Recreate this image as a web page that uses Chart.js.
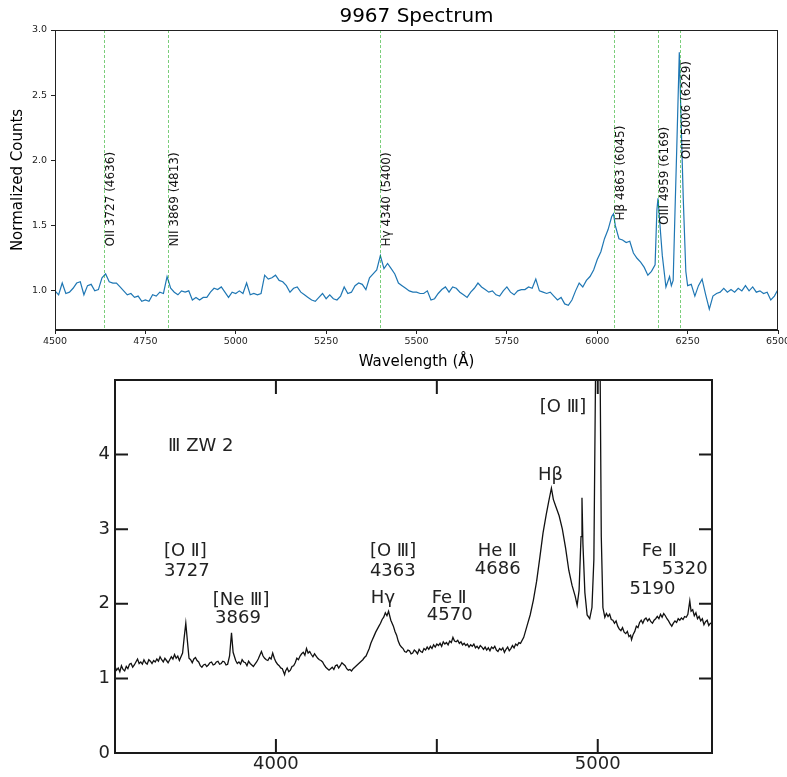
<!DOCTYPE html>
<html>
<head>
<meta charset="utf-8">
<script src="https://cdn.jsdelivr.net/npm/chart.js@4.4.1/dist/chart.umd.min.js"></script>
<style>
  body { margin: 0; background: #fff; }
  #top { position: absolute; left: 0; top: 0; }
  #bottom { position: absolute; left: 0; top: 370px; }
</style>
</head>
<body>
<canvas id="top" width="787" height="370"></canvas>
<canvas id="bottom" width="787" height="407"></canvas>
<script>
// ---- top panel: 9967 spectrum (observed wavelengths) ----
const topWave = [
  4500,4510,4520,4530,4540,4550,4560,4570,4580,4590,4600,4610,4620,4630,4640,4650,4660,4670,4680,4690,
  4700,4710,4720,4730,4740,4750,4760,4770,4780,4790,4800,4810,4820,4830,4840,4850,4860,4870,4880,4890,
  4900,4910,4920,4930,4940,4950,4960,4970,4980,4990,5000,5010,5020,5030,5040,5050,5060,5070,5080,5090,
  5100,5110,5120,5130,5140,5150,5160,5170,5180,5190,5200,5210,5220,5230,5240,5250,5260,5270,5280,5290,
  5300,5310,5320,5330,5340,5350,5360,5370,5380,5390,5400,5410,5420,5430,5440,5450,5460,5470,5480,5490,
  5500,5510,5520,5530,5540,5550,5560,5570,5580,5590,5600,5610,5620,5630,5640,5650,5660,5670,5680,5690,
  5700,5710,5720,5730,5740,5750,5760,5770,5780,5790,5800,5810,5820,5830,5840,5850,5860,5870,5880,5890,
  5900,5910,5920,5930,5940,5950,5960,5970,5980,5990,6000,6010,6020,6030,6040,6045,6050,6060,6070,6080,
  6090,6100,6110,6120,6130,6140,6150,6160,6165,6168,6175,6180,6190,6200,6205,6210,6215,6220,6227,6232,
  6238,6245,6250,6260,6270,6280,6290,6300,6310,6320,6330,6340,6350,6360,6370,6380,6390,6400,6410,6420,
  6430,6440,6450,6460,6470,6480,6490,6500
];
const topFlux = [
  1.00,0.97,1.06,0.98,0.99,1.02,1.06,1.07,0.97,1.04,1.05,1.00,1.01,1.10,1.13,1.07,1.06,1.06,1.03,1.00,
  0.97,0.98,0.95,0.96,0.92,0.93,0.92,0.97,0.96,0.99,0.98,1.11,1.02,0.99,0.97,1.00,0.99,1.00,0.93,0.95,
  0.93,0.95,0.95,0.99,1.02,1.01,1.03,0.99,0.95,0.99,0.98,1.00,0.98,1.06,0.97,0.98,0.97,0.98,1.12,1.09,
  1.10,1.12,1.08,1.07,1.04,0.99,1.02,1.03,0.99,0.97,0.95,0.93,0.92,0.95,0.98,0.94,0.97,0.94,0.93,0.96,
  1.03,0.98,0.99,1.04,1.06,1.05,1.01,1.10,1.13,1.16,1.27,1.17,1.21,1.17,1.13,1.06,1.04,1.02,1.00,0.99,
  0.99,0.98,0.98,1.00,0.93,0.94,0.98,1.01,1.03,0.99,1.03,1.02,0.99,0.97,0.95,0.99,1.02,1.06,1.03,1.01,
  0.99,1.00,0.97,0.96,1.00,1.03,0.99,0.97,1.00,1.01,1.01,1.03,1.02,1.09,1.00,0.99,0.98,0.99,0.96,0.93,
  0.95,0.90,0.89,0.93,1.00,1.06,1.03,1.08,1.11,1.16,1.24,1.30,1.40,1.47,1.57,1.59,1.50,1.40,1.39,1.37,
  1.38,1.29,1.25,1.22,1.18,1.12,1.15,1.20,1.62,1.71,1.45,1.27,1.03,1.11,1.04,1.08,1.60,2.10,2.83,2.30,
  1.70,1.15,1.04,1.05,0.96,1.04,1.09,0.97,0.86,0.96,0.98,0.99,1.02,0.99,1.01,0.99,1.02,1.00,1.04,1.00,
  1.03,0.99,1.00,0.98,0.99,0.93,0.96,1.01
];
const topYTicks = [1.0, 1.5, 2.0, 2.5, 3.0];
const topLineWave = [4636, 4813, 5400, 6045, 6169, 6229];
const topLineNames = ['OII 3727 (4636)', 'NII 3869 (4813)', 'H\u03b3 4340 (5400)',
                      'H\u03b2 4863 (6045)', 'OIII 4959 (6169)', 'OIII 5006 (6229)'];
const topLineNameY = [1.34, 1.34, 1.34, 1.54, 1.505, 2.01];

// ---- bottom panel: III Zw 2 (rest wavelengths) ----
const botWave = [
  3500,3505,3510,3515,3520,3525,3530,3535,3540,3545,
  3550,3555,3560,3565,3570,3575,3580,3585,3590,3595,
  3600,3605,3610,3615,3620,3625,3630,3635,3640,3645,
  3650,3655,3660,3665,3670,3675,3680,3685,3690,3695,
  3700,3705,3710,3715,3720,3725,3730,3735,3740,3745,
  3750,3755,3760,3765,3770,3775,3780,3785,3790,3795,
  3800,3805,3810,3815,3820,3825,3830,3835,3840,3845,
  3850,3856,3862,3867,3875,3880,3885,3890,3895,3900,
  3905,3910,3915,3920,3925,3930,3935,3940,3945,3950,
  3955,3960,3965,3970,3975,3980,3985,3990,3995,4000,
  4005,4010,4015,4020,4027,4030,4035,4040,4045,4050,
  4055,4060,4065,4070,4075,4080,4085,4090,4095,4100,
  4105,4110,4115,4120,4125,4130,4135,4140,4145,4150,
  4155,4160,4165,4170,4175,4180,4185,4190,4195,4200,
  4205,4210,4215,4220,4225,4230,4235,4240,4245,4250,
  4255,4260,4265,4270,4275,4280,4285,4290,4295,4300,
  4305,4310,4315,4320,4325,4330,4335,4340,4345,4350,
  4357,4365,4370,4375,4380,4385,4390,4395,4400,4405,
  4410,4415,4420,4425,4430,4435,4440,4445,4450,4455,
  4460,4465,4470,4475,4480,4485,4490,4495,4500,4505,
  4510,4515,4520,4525,4530,4535,4540,4545,4550,4555,
  4560,4565,4570,4575,4580,4585,4590,4595,4600,4605,
  4610,4615,4620,4625,4630,4635,4640,4645,4650,4655,
  4660,4665,4670,4675,4680,4685,4690,4695,4700,4705,
  4710,4715,4720,4725,4730,4735,4740,4745,4750,4755,
  4760,4770,4780,4790,4800,4810,4820,4830,4840,4848,
  4856,4862,4870,4880,4890,4900,4910,4920,4930,4936,
  4942,4948,4951,4954,4960,4967,4975,4982,4988,4994,
  5000,5006,5011,5016,5022,5027,5032,5037,5042,5047,
  5052,5057,5062,5067,5072,5077,5082,5087,5092,5097,
  5102,5105,5110,5115,5120,5125,5130,5135,5140,5145,
  5150,5155,5160,5165,5170,5175,5180,5185,5190,5195,
  5200,5205,5210,5215,5220,5225,5230,5235,5240,5245,
  5250,5255,5260,5265,5270,5275,5280,5286,5290,5295,
  5300,5305,5310,5315,5320,5325,5330,5335,5340,5345,
  5350,5355
];
const botFlux = [
  1.16,1.11,1.14,1.09,1.17,1.12,1.10,1.16,1.13,1.19,
  1.20,1.15,1.18,1.22,1.26,1.20,1.22,1.19,1.25,1.21,
  1.19,1.25,1.23,1.20,1.24,1.22,1.26,1.23,1.29,1.25,
  1.22,1.27,1.24,1.21,1.25,1.29,1.26,1.32,1.27,1.30,
  1.24,1.29,1.34,1.55,1.74,1.50,1.27,1.25,1.21,1.26,
  1.28,1.24,1.22,1.17,1.15,1.18,1.19,1.16,1.18,1.21,
  1.22,1.18,1.19,1.22,1.23,1.19,1.20,1.23,1.22,1.18,
  1.19,1.30,1.61,1.35,1.24,1.20,1.22,1.19,1.25,1.22,
  1.21,1.17,1.23,1.20,1.18,1.16,1.19,1.22,1.26,1.31,
  1.36,1.30,1.27,1.25,1.24,1.28,1.26,1.34,1.27,1.22,
  1.19,1.17,1.14,1.13,1.05,1.10,1.14,1.09,1.11,1.16,
  1.17,1.21,1.27,1.25,1.30,1.33,1.35,1.31,1.40,1.34,
  1.36,1.32,1.29,1.33,1.30,1.27,1.25,1.24,1.22,1.18,
  1.15,1.13,1.11,1.13,1.15,1.12,1.17,1.18,1.14,1.17,
  1.21,1.19,1.17,1.13,1.11,1.12,1.10,1.13,1.15,1.17,
  1.19,1.21,1.23,1.25,1.28,1.30,1.35,1.40,1.47,1.52,
  1.57,1.62,1.66,1.70,1.74,1.79,1.82,1.88,1.84,1.90,
  1.78,1.70,1.63,1.58,1.50,1.45,1.42,1.40,1.36,1.35,
  1.38,1.37,1.33,1.34,1.38,1.36,1.33,1.39,1.36,1.35,
  1.40,1.38,1.42,1.39,1.43,1.40,1.45,1.42,1.46,1.44,
  1.47,1.43,1.49,1.46,1.48,1.45,1.50,1.48,1.55,1.50,
  1.49,1.51,1.47,1.49,1.45,1.47,1.44,1.46,1.42,1.45,
  1.43,1.46,1.41,1.43,1.40,1.44,1.42,1.39,1.42,1.38,
  1.41,1.37,1.42,1.40,1.43,1.38,1.36,1.40,1.38,1.41,
  1.35,1.39,1.42,1.37,1.40,1.44,1.41,1.46,1.44,1.48,
  1.47,1.55,1.70,1.85,2.05,2.30,2.62,2.95,3.20,3.38,
  3.55,3.40,3.30,3.18,3.00,2.75,2.45,2.25,2.10,1.98,
  2.18,2.90,3.42,2.80,2.15,1.85,1.80,1.95,2.60,5.50,
  7.00,6.00,2.90,1.95,1.82,1.87,1.83,1.86,1.79,1.78,
  1.74,1.77,1.70,1.66,1.64,1.68,1.62,1.60,1.63,1.56,
  1.58,1.52,1.59,1.63,1.70,1.68,1.75,1.78,1.74,1.79,
  1.81,1.77,1.80,1.76,1.74,1.78,1.80,1.83,1.80,1.86,
  1.82,1.87,1.84,1.80,1.77,1.73,1.70,1.74,1.77,1.75,
  1.80,1.78,1.81,1.79,1.83,1.82,1.86,2.04,1.90,1.92,
  1.84,1.88,1.80,1.83,1.77,1.80,1.72,1.76,1.78,1.71,
  1.74,1.73
];
const botYTicks = [0, 1, 2, 3, 4];
const botXTickLabels = [4000, 5000];
const botXTickMarks = [4000, 4500, 5000];
const botInnerYTicks = [1, 2, 3, 4];
const botNotes = ['\u2162 ZW 2', '[O \u2161]', '3727', '[Ne \u2162]', '3869', '[O \u2162]', '4363', 'H\u03b3',
                  'Fe \u2161', '4570', 'He \u2161', '4686', '[O \u2162]', 'H\u03b2', 'Fe \u2161', '5320', '5190'];
const botNoteWave = [3665, 3652, 3652, 3804, 3811, 4292, 4292, 4295, 4484, 4469, 4627, 4618, 4820, 4814, 5137, 5199, 5099];
const botNoteFlux = [4.11, 2.70, 2.43, 2.05, 1.81, 2.70, 2.43, 2.07, 2.08, 1.84, 2.70, 2.46, 4.64, 3.72, 2.70, 2.46, 2.19];

Chart.defaults.font.family = 'DejaVu Sans';
Chart.defaults.color = '#222';

function toPoints(xs, ys) {
  return xs.map((x, i) => ({ x: x, y: ys[i] }));
}

function noPad(scale) {
  scale.paddingLeft = 0;
  scale.paddingRight = 0;
  scale.paddingTop = 0;
  scale.paddingBottom = 0;
}

// frame round the plot and the marked emission lines
const topDecor = {
  id: 'topDecor',
  afterDatasetsDraw(chart) {
    const { ctx, chartArea: a, scales: { x, y } } = chart;
    ctx.save();
    ctx.strokeStyle = 'rgba(0,160,0,0.65)';
    ctx.lineWidth = 0.8;
    ctx.setLineDash([3, 2]);
    topLineWave.forEach(w => {
      const px = Math.round(x.getPixelForValue(w)) + 0.5;
      ctx.beginPath();
      ctx.moveTo(px, a.top);
      ctx.lineTo(px, a.bottom);
      ctx.stroke();
    });
    ctx.setLineDash([]);
    ctx.fillStyle = '#111';
    ctx.font = '12px "DejaVu Sans"';
    ctx.textAlign = 'left';
    ctx.textBaseline = 'top';
    topLineWave.forEach((w, i) => {
      ctx.save();
      ctx.translate(x.getPixelForValue(w) + 1, y.getPixelForValue(topLineNameY[i]));
      ctx.rotate(-Math.PI / 2);
      ctx.fillText(topLineNames[i], 0, 0);
      ctx.restore();
    });
    ctx.strokeStyle = '#222';
    ctx.lineWidth = 1;
    ctx.strokeRect(a.left + 0.5, a.top + 0.5, a.right - a.left - 1, a.bottom - a.top - 1);
    ctx.restore();
  }
};

new Chart(document.getElementById('top'), {
  type: 'line',
  data: {
    datasets: [{
      data: toPoints(topWave, topFlux),
      borderColor: '#1f77b4',
      borderWidth: 1.2,
      pointRadius: 0,
      tension: 0
    }]
  },
  options: {
    responsive: false,
    animation: false,
    layout: { padding: { left: 0, right: 9, top: 0, bottom: 0 } },
    plugins: {
      legend: { display: false },
      tooltip: { enabled: false },
      title: {
        display: true,
        text: '9967 Spectrum',
        fullSize: false,
        color: '#000',
        font: { size: 20, weight: 'normal' },
        padding: { top: 5, bottom: 1 }
      }
    },
    scales: {
      x: {
        type: 'linear',
        min: 4500,
        max: 6500,
        afterFit(s) { s.height = 40; noPad(s); },
        ticks: { stepSize: 250, font: { size: 9.5 }, padding: 2, maxRotation: 0, callback: v => String(v) },
        grid: { drawOnChartArea: false, drawTicks: true, tickLength: 4, color: '#222' },
        border: { display: true, color: '#222' },
        title: { display: true, text: 'Wavelength (\u00c5)', color: '#000', font: { size: 15, lineHeight: 1 }, padding: { top: 0, bottom: 0 } }
      },
      y: {
        type: 'linear',
        min: 0.7,
        max: 3.0,
        afterBuildTicks(s) { s.ticks = topYTicks.map(v => ({ value: v })); },
        afterFit(s) { s.width = 55; noPad(s); },
        ticks: { font: { size: 9.5 }, padding: 4, callback: v => v.toFixed(1) },
        grid: { drawOnChartArea: false, drawTicks: true, tickLength: 4, color: '#222' },
        border: { display: true, color: '#222' },
        title: { display: true, text: 'Normalized Counts', color: '#000', font: { size: 15, lineHeight: 1.2 }, padding: { top: 9, bottom: 0 } }
      }
    }
  },
  plugins: [topDecor]
});

// old plot: thick frame, inward ticks, hand lettering
const botDecor = {
  id: 'botDecor',
  afterDraw(chart) {
    const { ctx, chartArea: a, scales: { x, y } } = chart;
    ctx.save();
    ctx.strokeStyle = '#1a1a1a';
    ctx.lineWidth = 2;
    ctx.strokeRect(a.left, a.top, a.right - a.left, a.bottom - a.top);
    ctx.beginPath();
    botInnerYTicks.forEach(v => {
      const py = y.getPixelForValue(v);
      ctx.moveTo(a.left, py); ctx.lineTo(a.left + 13, py);
      ctx.moveTo(a.right, py); ctx.lineTo(a.right - 13, py);
    });
    botXTickMarks.forEach(w => {
      const px = x.getPixelForValue(w);
      ctx.moveTo(px, a.top); ctx.lineTo(px, a.top + 14);
      ctx.moveTo(px, a.bottom); ctx.lineTo(px, a.bottom - 14);
    });
    ctx.stroke();
    ctx.fillStyle = '#222';
    ctx.font = '18px "DejaVu Sans"';
    ctx.textAlign = 'left';
    ctx.textBaseline = 'middle';
    botNotes.forEach((t, i) => {
      ctx.fillText(t, x.getPixelForValue(botNoteWave[i]), y.getPixelForValue(botNoteFlux[i]));
    });
    ctx.restore();
  }
};

new Chart(document.getElementById('bottom'), {
  type: 'line',
  data: {
    datasets: [{
      data: toPoints(botWave, botFlux),
      borderColor: '#111',
      borderWidth: 1.3,
      pointRadius: 0,
      tension: 0,
      clip: 0
    }]
  },
  options: {
    responsive: false,
    animation: false,
    layout: { padding: { left: 0, right: 75, top: 10, bottom: 0 } },
    plugins: { legend: { display: false }, tooltip: { enabled: false } },
    scales: {
      x: {
        type: 'linear',
        min: 3500,
        max: 5355,
        afterBuildTicks(s) { s.ticks = botXTickLabels.map(v => ({ value: v })); },
        afterFit(s) { s.height = 24; noPad(s); },
        ticks: { font: { size: 18 }, color: '#222', padding: 1, maxRotation: 0, callback: v => String(v) },
        grid: { display: false, drawTicks: false },
        border: { display: false }
      },
      y: {
        type: 'linear',
        min: 0,
        max: 5,
        afterBuildTicks(s) { s.ticks = botYTicks.map(v => ({ value: v })); },
        afterFit(s) { s.width = 115; noPad(s); },
        ticks: { font: { size: 18 }, color: '#222', padding: 5, callback: v => String(v) },
        grid: { display: false, drawTicks: false },
        border: { display: false }
      }
    }
  },
  plugins: [botDecor]
});
</script>
</body>
</html>
